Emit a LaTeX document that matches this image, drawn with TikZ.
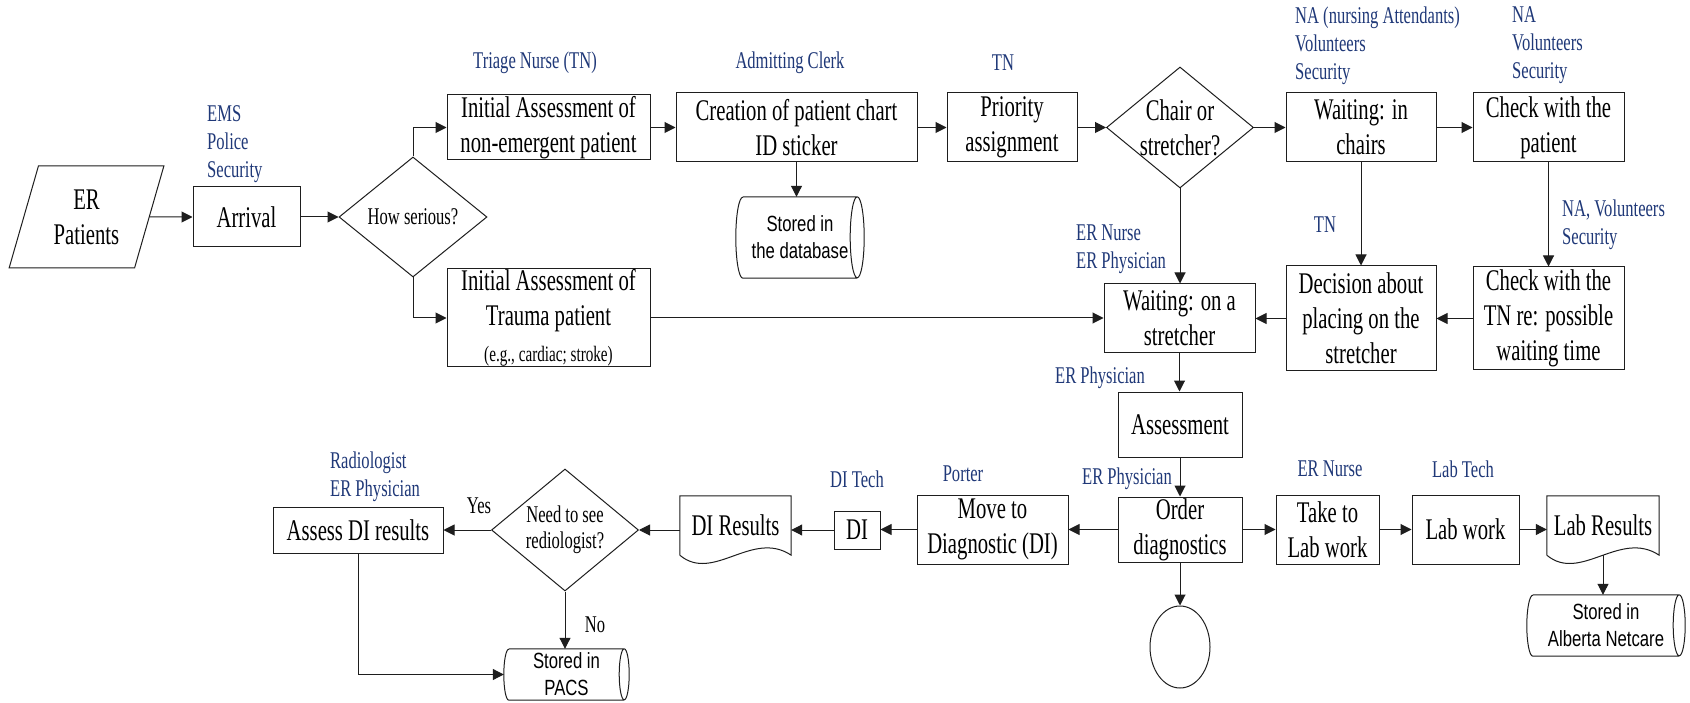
\documentclass[tikz,border=0pt]{standalone}
\usepackage{fontspec}
\setmainfont{Liberation Serif}[FakeStretch=0.69]
\newfontfamily\cylfont{Liberation Sans}[FakeStretch=0.76]
\usetikzlibrary{shapes.geometric,arrows.meta,calc}
\definecolor{roleblue}{RGB}{31,56,120}
\definecolor{ink}{RGB}{30,30,30}

\tikzset{
  sz/.style 2 args={minimum width=#1pt, minimum height=#2pt},
  procbox/.style={draw=ink, line width=1pt, rectangle, inner sep=0pt, align=center,
    font=\fontsize{30}{35}\selectfont},
  decision/.style={draw=ink, line width=1pt, diamond, inner sep=-15pt, align=center},
  docbox/.style={rectangle, inner sep=0pt, align=center, font=\fontsize{30}{35}\selectfont},
  storebox/.style={rectangle, inner sep=0pt, align=center, font=\cylfont\fontsize{22}{27}\selectfont},
  rolelabel/.style={text=roleblue, inner sep=0pt, align=left, font=\fontsize{24}{28}\selectfont},
  branchlabel/.style={inner sep=0pt, font=\fontsize{24}{28}\selectfont},
  flowarrow/.style={draw=ink, line width=1pt, -{Triangle[length=11pt,width=11pt]}},
}

% horizontal storage cylinder drawn around a node: #1 node, #2 end radius, #3 half height
\newcommand\storeoutline[3]{%
  \draw[ink, line width=1pt]
    ($(#1.north west)+(#2pt,0pt)$) -- ($(#1.north east)+(-#2pt,0pt)$)
    arc[start angle=90, end angle=-270, x radius=#2pt, y radius=#3pt]
    ($(#1.south east)+(-#2pt,0pt)$) -- ($(#1.south west)+(#2pt,0pt)$)
    arc[start angle=270, end angle=90, x radius=#2pt, y radius=#3pt];
}
% document symbol with a wavy lower edge drawn around a node
\newcommand\docoutline[1]{%
  \draw[ink, line width=1pt]
    (#1.south west) -- (#1.north west) -- (#1.north east) -- (#1.south east)
    .. controls ($(#1.south west)!0.65!(#1.south east)+(0pt,26pt)$)
       and ($(#1.south west)!0.3!(#1.south east)+(0pt,-28pt)$) .. (#1.south west);
}

\begin{document}
\begin{tikzpicture}[x=1pt,y=-1pt]
\fill[white] (0,0) rectangle (1690,703);
\useasboundingbox (0,0) rectangle (1690,703);

% ---- intake row
\node[draw=ink, line width=1pt, trapezium, trapezium left angle=70, trapezium right angle=110,
      trapezium stretches=true, sz={155}{102}, inner sep=0pt, align=center,
      font=\fontsize{30}{35}\selectfont] (pat) at (86.5,217) {ER\\Patients};
\node[procbox, sz={107}{60}] (arr) at (246.5,217) {Arrival};
\node[decision, sz={148}{120}, font=\fontsize{24}{28}\selectfont] (ser) at (413,217) {How serious?};

\node[procbox, sz={203}{65}] (ne) at (548.5,127.5) {Initial Assessment of\\non-emergent patient};
\node[procbox, sz={203}{98}] (tr) at (548.5,318)
  {Initial Assessment of\\Trauma patient\\[1pt]\fontsize{22}{26}\selectfont (e.g., cardiac; stroke)};

\node[procbox, sz={241}{69}] (cr) at (796.5,127.5) {Creation of patient chart\\ID sticker};
\node[storebox, sz={128}{81}] (db) at (800,237.5) {Stored in\\the database};
\storeoutline{db}{7}{40.5}

\node[procbox, sz={130}{69}] (pr) at (1012,127.5) {Priority\\assignment};
\node[decision, sz={147}{121}, font=\fontsize{30}{35}\selectfont] (ch) at (1180,127.5) {Chair or\\stretcher?};
\node[procbox, sz={150}{69}] (wc) at (1361,127.5) {Waiting: in\\chairs};
\node[procbox, sz={151}{69}] (cp) at (1548.5,127.5) {Check with the\\patient};

% ---- stretcher row
\node[procbox, sz={151}{69}] (ws) at (1179.5,318.5) {Waiting: on a\\stretcher};
\node[procbox, sz={150}{105}] (dp) at (1361,318.5) {Decision about\\placing on the\\stretcher};
\node[procbox, sz={151}{103}] (ct) at (1548.5,318.5) {Check with the\\TN re: possible\\waiting time};

% ---- diagnostics row
\node[procbox, sz={124}{65}] (as) at (1180,424.5) {Assessment};
\node[procbox, sz={124}{65}] (od) at (1180,529.5) {Order\\diagnostics};
\node[draw=ink, line width=1pt, ellipse, sz={60}{82}, inner sep=0pt] (el) at (1180,647) {};
\node[procbox, sz={103}{69}] (tl) at (1327.5,529.5) {Take to\\Lab work};
\node[procbox, sz={107}{69}] (lw) at (1465.5,529.5) {Lab work};
\node[docbox, sz={112}{59}] (lr) at (1603,525.5) {Lab Results};
\docoutline{lr}
\node[storebox, sz={158}{61}] (an) at (1606,625.5) {Stored in\\Alberta Netcare};
\storeoutline{an}{6}{30.5}

\node[procbox, sz={151}{69}] (md) at (992.5,529.5) {Move to\\Diagnostic (DI)};
\node[procbox, sz={46}{38}] (di) at (857,530) {DI};
\node[docbox, sz={111}{59}] (dr) at (735.5,525.5) {DI Results};
\docoutline{dr}
\node[decision, sz={147}{122}, font=\fontsize{24}{26}\selectfont] (nd) at (565,530) {Need to see\\rediologist?};
\node[procbox, sz={170}{46}] (ad) at (358,530) {Assess DI results};
\node[storebox, sz={125}{51}] (pacs) at (566.5,674.5) {Stored in\\PACS};
\storeoutline{pacs}{5}{25.5}

% ---- connectors
\draw[flowarrow] (pat) -- (arr);
\draw[flowarrow] (arr) -- (ser);
\draw[flowarrow] (ser.north) |- (ne.west);
\draw[flowarrow] (ser.south) |- (tr.west);
\draw[flowarrow] (ne) -- (cr);
\draw[flowarrow] (cr) -- (pr);
\draw[flowarrow] (cr.south) -- (cr.south |- db.north);
\draw[flowarrow] (pr) -- (ch);
\draw[flowarrow] (ch) -- (wc);
\draw[flowarrow] (wc) -- (cp);
\draw[flowarrow] (ch.south) -- (ch.south |- ws.north);
\draw[flowarrow] (wc) -- (dp);
\draw[flowarrow] (cp) -- (ct);
\draw[flowarrow] (ct) -- (dp);
\draw[flowarrow] (dp) -- (ws);
\draw[flowarrow] (tr.east) -- (tr.east -| ws.west);
\draw[flowarrow] (ws.south) -- (ws.south |- as.north);
\draw[flowarrow] (as) -- (od);
\draw[flowarrow] (od) -- (el);
\draw[flowarrow] (od) -- (tl);
\draw[flowarrow] (tl) -- (lw);
\draw[flowarrow] (lw.east) -- (lw.east -| lr.west);
\draw[flowarrow] (lr.south) -- (lr.south |- an.north);
\draw[flowarrow] (od) -- (md);
\draw[flowarrow] (md.west) -- (md.west -| di.east);
\draw[flowarrow] (di.west) -- (di.west -| dr.east);
\draw[flowarrow] (nd.east -| dr.west) -- (nd.east);
\draw[flowarrow] (nd) -- (ad);
\draw[flowarrow] (nd.south) -- (nd.south |- pacs.north);
\draw[flowarrow] (ad.south) |- (pacs.west);

% ---- roles and branch labels
\node[rolelabel, anchor=west] (r-arr) at (207,144) {EMS\\Police\\Security};
\node[rolelabel] (r-ne) at (535,63) {Triage Nurse (TN)};
\node[rolelabel] (r-cr) at (790,63) {Admitting Clerk};
\node[rolelabel] (r-pr) at (1003,63) {TN};
\node[rolelabel, anchor=west] (r-wc) at (1295,45.5) {NA (nursing Attendants)\\Volunteers\\Security};
\node[rolelabel, anchor=west] (r-cp) at (1512,45.5) {NA\\Volunteers\\Security};
\node[rolelabel, anchor=west] (r-ws) at (1076,249.5) {ER Nurse\\ER Physician};
\node[rolelabel] (r-dp) at (1325,225) {TN};
\node[rolelabel, anchor=west] (r-ct) at (1562,225) {NA, Volunteers\\Security};
\node[rolelabel] (r-as) at (1100,378) {ER Physician};
\node[rolelabel] (r-od) at (1127,479) {ER Physician};
\node[rolelabel] (r-md) at (963,474) {Porter};
\node[rolelabel] (r-di) at (857,479) {DI Tech};
\node[rolelabel] (r-tl) at (1330,469) {ER Nurse};
\node[rolelabel] (r-lw) at (1463,469) {Lab Tech};
\node[rolelabel, anchor=west] (r-ad) at (330,477) {Radiologist\\ER Physician};
\node[branchlabel] (yes) at (479,506) {Yes};
\node[branchlabel] (no) at (595,625) {No};
\end{tikzpicture}
\end{document}
